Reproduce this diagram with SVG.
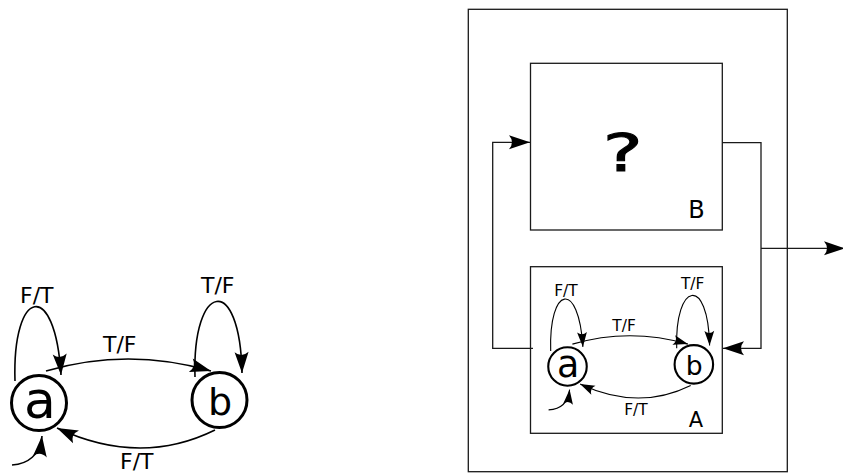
<svg xmlns="http://www.w3.org/2000/svg" width="843" height="473" viewBox="0 0 843 473">
<style>
.st{fill:#fff;stroke:#000;stroke-width:3}
.edge{fill:none;stroke:#000;stroke-width:1.6}
.lbl{font-family:"DejaVu Sans",sans-serif;font-size:22px;fill:#000}
.big{font-family:"DejaVu Sans",sans-serif;fill:#000;text-anchor:middle}
.box{fill:none;stroke:#1a1a1a;stroke-width:1.3}
.wire{fill:none;stroke:#1a1a1a;stroke-width:1.3}
</style>
<defs>
<marker id="arr" markerUnits="userSpaceOnUse" markerWidth="30" markerHeight="20" refX="0" refY="0" orient="auto" overflow="visible">
<path d="M0,0 L-21,-7 Q-15,0 -21,7 Z" fill="#000"/>
</marker>
</defs>
<rect width="843" height="473" fill="#fff"/>

<!-- left state machine -->
<g id="machine-left">
<g id="left-connectors">
<path class="edge" d="M15,381 C12,288 55,278 61,375" marker-end="url(#arr)"/>
<path class="edge" d="M46,371 Q128,347 211,371" marker-end="url(#arr)"/>
<path class="edge" d="M195,377 C192,282 240,272 242,373" marker-end="url(#arr)"/>
<path class="edge" d="M215,430 Q140,467 57,428" marker-end="url(#arr)"/>
<path class="edge" d="M12,465 C28,464 40,455 42,436" marker-end="url(#arr)"/>
<text class="lbl" x="20" y="303">F/T</text>
<text class="lbl" x="103" y="352">T/F</text>
<text class="lbl" x="201" y="293">T/F</text>
<text class="lbl" x="120" y="469">F/T</text>
</g>
<g id="left-state-a">
<circle class="st" cx="39" cy="403" r="27.5"/>
<text class="big" x="40" y="418" font-size="52">a</text>
</g>
<g id="left-state-b">
<circle class="st" cx="219.5" cy="400" r="27.5"/>
<text class="big" x="220" y="415" font-size="38">b</text>
</g>
</g>

<!-- right system -->
<g id="system">
<rect class="box" x="468.3" y="9.3" width="319" height="462.4"/>
</g>

<g id="block-B">
<rect class="box" x="530.5" y="63.3" width="191.8" height="166.7"/>
<text class="big" font-size="52" stroke="#000" stroke-width="1" transform="translate(622.7,171) scale(1.45,1)">?</text>
<text class="big" x="696.5" y="218" font-size="24">B</text>
</g>

<g id="block-A">
<rect class="box" x="530.5" y="266.7" width="191.8" height="166.6"/>
<text class="big" x="696" y="427" font-size="21">A</text>
<g id="machine-mini" transform="translate(540.2,84.4) scale(0.7)">
<g id="mini-connectors">
<path class="edge" d="M15,381 C12,288 55,278 61,375" marker-end="url(#arr)"/>
<path class="edge" d="M46,371 Q128,347 211,371" marker-end="url(#arr)"/>
<path class="edge" d="M195,377 C192,282 240,272 242,373" marker-end="url(#arr)"/>
<path class="edge" d="M215,430 Q140,467 57,428" marker-end="url(#arr)"/>
<path class="edge" d="M12,465 C28,464 40,455 42,436" marker-end="url(#arr)"/>
<text class="lbl" x="20" y="303">F/T</text>
<text class="lbl" x="103" y="352">T/F</text>
<text class="lbl" x="201" y="293">T/F</text>
<text class="lbl" x="120" y="472">F/T</text>
</g>
<g id="mini-state-a">
<circle class="st" cx="39" cy="403" r="27.5"/>
<text class="big" x="40" y="418" font-size="52">a</text>
</g>
<g id="mini-state-b">
<circle class="st" cx="219.5" cy="400" r="27.5"/>
<text class="big" x="220" y="415" font-size="38">b</text>
</g>
</g>
</g>

<g id="wires">
<path class="wire" d="M533,348.3 H492.7 V142.3 H530" marker-end="url(#arr)"/>
<path class="wire" d="M722.3,142.7 H761 V348.3 H723" marker-end="url(#arr)"/>
<path class="wire" d="M761,248.3 H845" marker-end="url(#arr)"/>
</g>
</svg>
